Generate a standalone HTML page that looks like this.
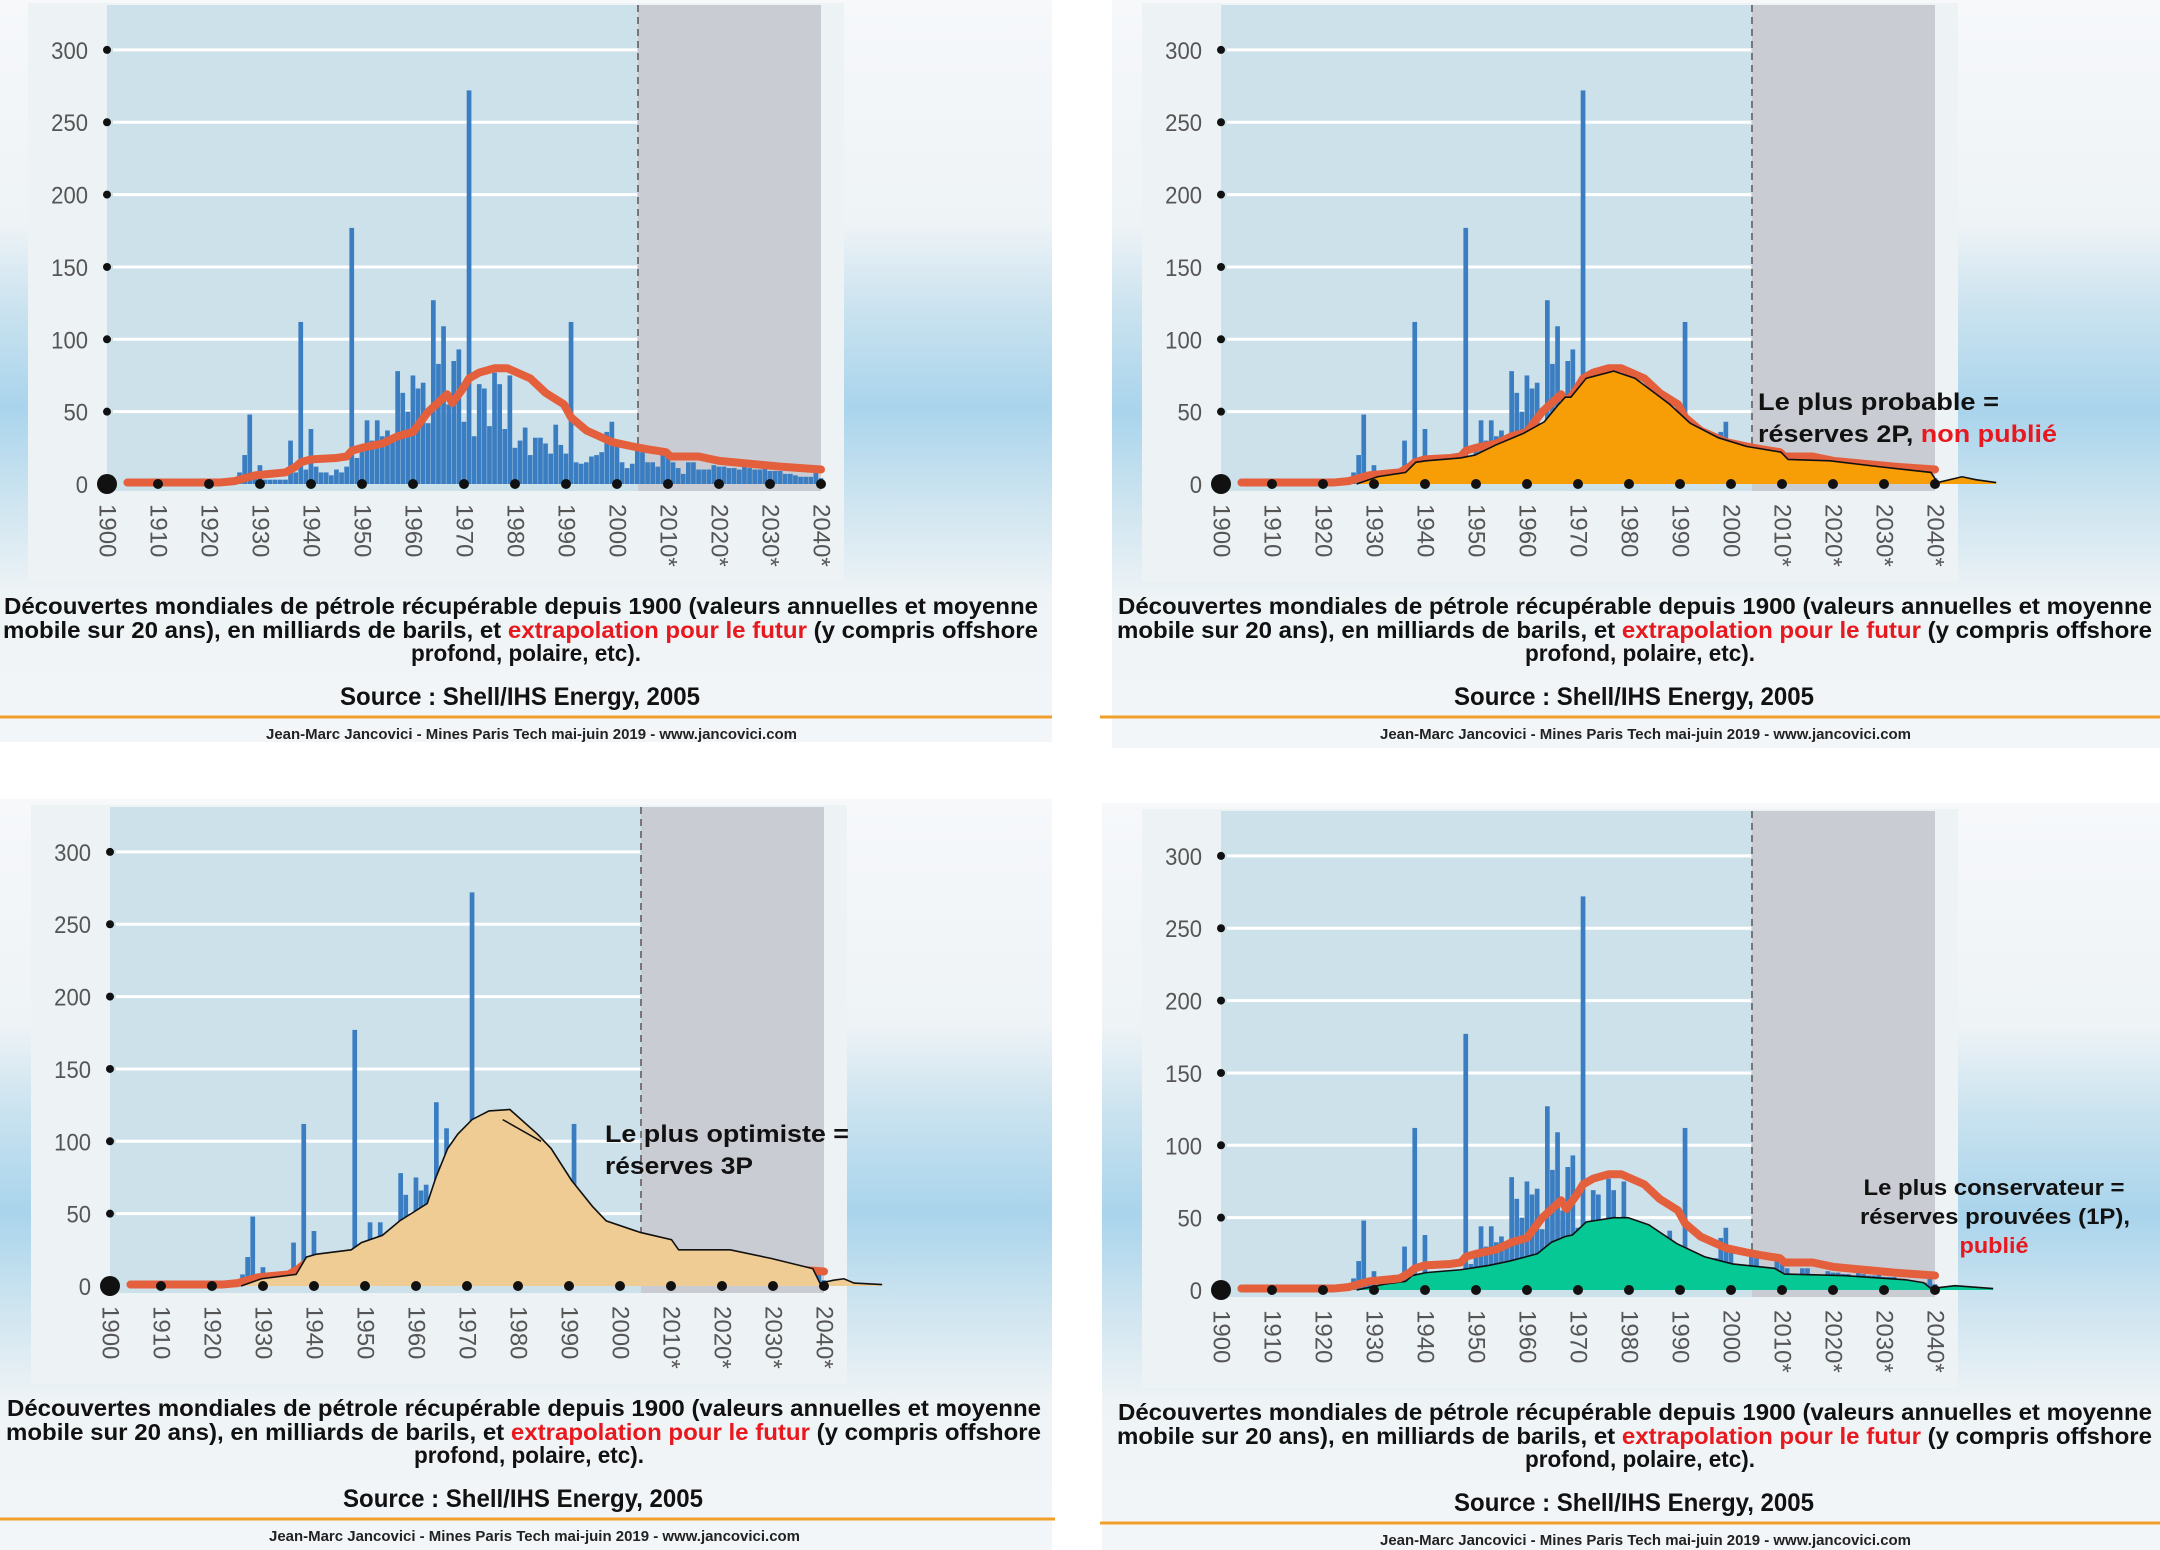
<!DOCTYPE html>
<html><head><meta charset="utf-8"><style>
html,body{margin:0;padding:0;background:#fff;}
svg{display:block;font-family:"Liberation Sans",Arial,sans-serif;}
</style></head><body>
<svg id="root" width="2160" height="1550" viewBox="0 0 2160 1550" xmlns="http://www.w3.org/2000/svg">
<defs>
<linearGradient id="sky" x1="0" y1="0" x2="0" y2="1">
<stop offset="0" stop-color="#f6f8fa"/><stop offset="0.3" stop-color="#eef3f6"/>
<stop offset="0.42" stop-color="#c9e2ef"/><stop offset="0.55" stop-color="#a9d4ec"/>
<stop offset="0.68" stop-color="#cfe5f0"/><stop offset="0.8" stop-color="#eef3f6"/><stop offset="1" stop-color="#f3f6f8"/>
</linearGradient>
</defs>
</svg>
<script>
// ---- data ----
const barStartYear = 1925;
const barValues = [1,8,20,48,4,13,3,3,3,3,3,30,8,112,10,38,12,8,8,6,10,8,12,177,18,25,44,30,44,
33,37,32,78,63,50,75,66,70,42,127,83,109,55,85,93,43,272,33,69,66,40,77,69,38,75,25,30,39,20,32,32,28,21,41,27,21,112,
15,14,15,19,20,22,36,43,27,15,11,14,27,22,15,15,12,22,19,15,11,7,15,15,10,10,10,13,12,12,11,11,10,12,11,10,10,11,9,9,9,7,7,6,5,5,5,9,4];
const maYears = [1904,1915,1922,1925,1927,1929,1932,1935,1937,1938,1940,1945,1947,1948,1950,1954,1957,1960,1963,1966.7,1967.7,1969.6,1971,1973,1976,1978.5,1983,1986,1989.6,1991,1994,1999,2003,2006,2009.6,2010.5,2016,2020,2026,2032,2040];
const maValues = [1,1,1,2,4,6,7,8,12,15,17,18,19,23,25,28,33,36,50,62,56,65,73,77,80,80,73,63,55,46,37,29,26,24,22,19,19,16,14,12,10];
const p2Years = [1926.6,1930.7,1936.2,1938.2,1940.2,1947,1949.8,1953.9,1959.3,1963.4,1966.2,1967.5,1968.6,1971.6,1977,1981.2,1988,1992,1997.5,2003,2009.8,2011.2,2019.4,2028.9,2039.2,2040.5,2045.3,2048,2052];
const p2Values = [0,5,8,15,16,18,20,27,35,43,55,60,60,73,78,73,55,42,32,26,22,17,16,12,8,1,5,3,1];
const p3Years = [1925.7,1929.7,1936.5,1938.5,1940.5,1947.3,1949.3,1953.4,1956.8,1962.2,1963.9,1966.2,1968.2,1971,1974.3,1978.4,1983.8,1986.5,1990.5,1994.6,1997.3,2004,2010.1,2011.5,2021.6,2029.7,2037.8,2039.2,2041.9,2043.9,2045.9,2051.4];
const p3Values = [0,5,8,20,22,25,30,35,45,57,75,95,105,115,121,122,105,95,73,55,45,37,32,25,25,19,12,2,4,5,2,1];
const p1Years = [1926.6,1932,1936.2,1937.5,1940.2,1947,1952.5,1956.6,1962,1964.8,1967.5,1968.9,1971.6,1977,1979.8,1983.9,1989.4,1994.8,2000.3,2008.5,2010.5,2022.1,2034.4,2037.8,2039.2,2043.9,2051.4];
const p1Values = [0,4,6,10,12,14,17,20,25,33,37,38,47,50,50,45,32,23,18,15,11,10,7,5,1,3,1];
const yTicks = [0,50,100,150,200,250,300];
const xTickYears = [1900,1910,1920,1930,1940,1950,1960,1970,1980,1990,2000,2010,2020,2030,2040];
const xTickLabels = ["1900","1910","1920","1930","1940","1950","1960","1970","1980","1990","2000","2010*","2020*","2030*","2040*"];

const NS = "http://www.w3.org/2000/svg";
const root = document.getElementById('root');
function mk(tag, attrs, parent){ const e=document.createElementNS(NS,tag); for(const k in attrs) e.setAttribute(k,attrs[k]); parent.appendChild(e); return e; }
// axis functions (panel-relative)
const X0=107, X1=821, Y0=484, YPX=1.447;
function xs(yr){ return X0 + (yr-1900)*(X1-X0)/140; }
function ys(v){ return Y0 - v*YPX; }

const panelBgs = [[0,0,1052,742],[1112,0,1048,748],[0,799,1052,751],[1102,803,1058,747]];
panelBgs.forEach(b=>{
  const r = mk('rect',{x:b[0],y:b[1],width:b[2],height:b[3],fill:'url(#sky)'},root);
  
  
});

function drawPanel(dx,dy,kind,name){
  const g = mk('g',{transform:`translate(${dx},${dy})`},root);
  
  
  const card = mk('rect',{x:28,y:3,width:816,height:579,fill:'#edf2f5'},g);
  
  
  const plot = mk('rect',{x:X0,y:5,width:638-X0,height:486,fill:'#cde1ea'},g);
  
  
  const fut = mk('rect',{x:638,y:5,width:X1-638,height:486,fill:'#c9ccd3'},g);
  
  
  yTicks.forEach(t=>{
    if(t>0){
      const gl = mk('line',{x1:X0+6,x2:637,y1:ys(t),y2:ys(t),stroke:'#ffffff','stroke-width':3},g);
      
      
      const d = mk('circle',{cx:X0,cy:ys(t),r:4,fill:'#111'},g);
      
      
    }
    const tl = mk('text',{x:88,y:ys(t)+9,'text-anchor':'end','font-size':24,fill:'#555',transform:`translate(${88*0.08},0) scale(0.92,1)`},g);
    tl.textContent = String(t);
    
    
  });
  const dash = mk('line',{x1:638,x2:638,y1:5,y2:Y0,stroke:'#777','stroke-width':2,'stroke-dasharray':'7 5'},g);
  
  
  barValues.forEach((v,i)=>{
    const yr = barStartYear + i;
    const b = mk('rect',{x:xs(yr)-2.4,y:ys(v),width:4.7,height:v*YPX,fill:'#3a7dc1'},g);
    
    
  });
  const maPts = maYears.map((y,i)=>xs(y)+','+ys(maValues[i])).join(' ');
  function area(yrs,vals,fill,nm){
    let d = `M${xs(yrs[0])},${Y0} ` + yrs.map((y,i)=>`L${xs(y)},${ys(vals[i])}`).join(' ') + ` L${xs(yrs[yrs.length-1])},${Y0} Z`;
    const p = mk('path',{d:d,fill:fill},g);
    
    
    const l = mk('polyline',{points:yrs.map((y,i)=>xs(y)+','+ys(vals[i])).join(' '),fill:'none',stroke:'#111','stroke-width':1.6},g);
    
    
  }
  function ma(){
    const m = mk('polyline',{points:maPts,fill:'none',stroke:'#e4603d','stroke-width':8,'stroke-linejoin':'round','stroke-linecap':'round'},g);
    
    
  }
  if(kind==='base'){ ma(); }
  if(kind==='2p'){ ma(); area(p2Years,p2Values,'#f79d05','reserves-2p'); }
  if(kind==='3p'){ ma(); area(p3Years,p3Values,'#f0cc95','reserves-3p'); }
  if(kind==='1p'){ area(p1Years,p1Values,'#05c894','reserves-1p'); ma(); }
  xTickYears.forEach((yr,i)=>{
    if(i>0){
      const d = mk('circle',{cx:xs(yr),cy:Y0,r:5,fill:'#111'},g);
      
      
    }
    const t = mk('text',{x:0,y:0,'font-size':24,fill:'#555','dominant-baseline':'central',transform:`translate(${xs(yr)},504) rotate(90)`},g);
    t.textContent = xTickLabels[i];
    
    
  });
  const od = mk('circle',{cx:X0,cy:Y0,r:10,fill:'#111'},g);
  
  
  const c1 = mk('text',{x:4,y:614,'font-size':23,'font-weight':'bold',fill:'#111',textLength:1034,lengthAdjust:'spacingAndGlyphs'},g);
  c1.textContent = 'Découvertes mondiales de pétrole récupérable depuis 1900 (valeurs annuelles et moyenne';
  
  
  const c2 = mk('text',{x:3,y:638,'font-size':23,'font-weight':'bold',fill:'#111',textLength:1035,lengthAdjust:'spacingAndGlyphs'},g);
  c2.innerHTML = 'mobile sur 20 ans), en milliards de barils, et <tspan fill="#e8191e">extrapolation pour le futur</tspan> (y compris offshore';
  
  
  const c3 = mk('text',{x:411,y:661,'font-size':23,'font-weight':'bold',fill:'#111',textLength:230,lengthAdjust:'spacingAndGlyphs'},g);
  c3.textContent = 'profond, polaire, etc).';
  
  
  const src = mk('text',{x:340,y:705,'font-size':25,'font-weight':'bold',fill:'#111',textLength:360,lengthAdjust:'spacingAndGlyphs'},g);
  src.textContent = 'Source : Shell/IHS Energy, 2005';
  
  
  const ol = mk('line',{x1:-14,x2:1052,y1:717,y2:717,stroke:'#f0a02a','stroke-width':3},g);
  
  
  const ft = mk('text',{x:266,y:739,'font-size':15,'font-weight':'bold',fill:'#222',textLength:531,lengthAdjust:'spacingAndGlyphs'},g);
  ft.textContent = 'Jean-Marc Jancovici - Mines Paris Tech mai-juin 2019 - www.jancovici.com';
  
  
  return g;
}

drawPanel(0,0,'base','panel-annual-discoveries');
const g2 = drawPanel(1114,0,'2p','panel-reserves-2p');
const g3 = drawPanel(3,802,'3p','panel-reserves-3p');
const g4 = drawPanel(1114,806,'1p','panel-reserves-1p');

let a = mk('text',{x:644,y:410,'font-size':24,'font-weight':'bold',fill:'#111',textLength:241,lengthAdjust:'spacingAndGlyphs'},g2);
a.textContent='Le plus probable =';


a = mk('text',{x:644,y:442,'font-size':24,'font-weight':'bold',fill:'#111',textLength:299,lengthAdjust:'spacingAndGlyphs'},g2);
a.innerHTML='réserves 2P, <tspan fill="#e8191e">non publié</tspan>';



a = mk('polyline',{points:`${xs(1977)},${ys(115)} ${xs(1984.5)},${ys(100)}`,fill:'none',stroke:'#111','stroke-width':1.5},g3);


a = mk('text',{x:602,y:340,'font-size':24,'font-weight':'bold',fill:'#111',textLength:244,lengthAdjust:'spacingAndGlyphs'},g3);
a.textContent='Le plus optimiste =';


a = mk('text',{x:602,y:372,'font-size':24,'font-weight':'bold',fill:'#111',textLength:148,lengthAdjust:'spacingAndGlyphs'},g3);
a.textContent='réserves 3P';



a = mk('text',{x:880,y:389,'font-size':22,'font-weight':'bold',fill:'#111','text-anchor':'middle',textLength:261,lengthAdjust:'spacingAndGlyphs'},g4);
a.textContent='Le plus conservateur =';


a = mk('text',{x:881,y:418,'font-size':22,'font-weight':'bold',fill:'#111','text-anchor':'middle',textLength:270,lengthAdjust:'spacingAndGlyphs'},g4);
a.textContent='réserves prouvées (1P),';


a = mk('text',{x:880,y:447,'font-size':22,'font-weight':'bold',fill:'#e8191e','text-anchor':'middle',textLength:69,lengthAdjust:'spacingAndGlyphs'},g4);
a.textContent='publié';


</script>
</body></html>
